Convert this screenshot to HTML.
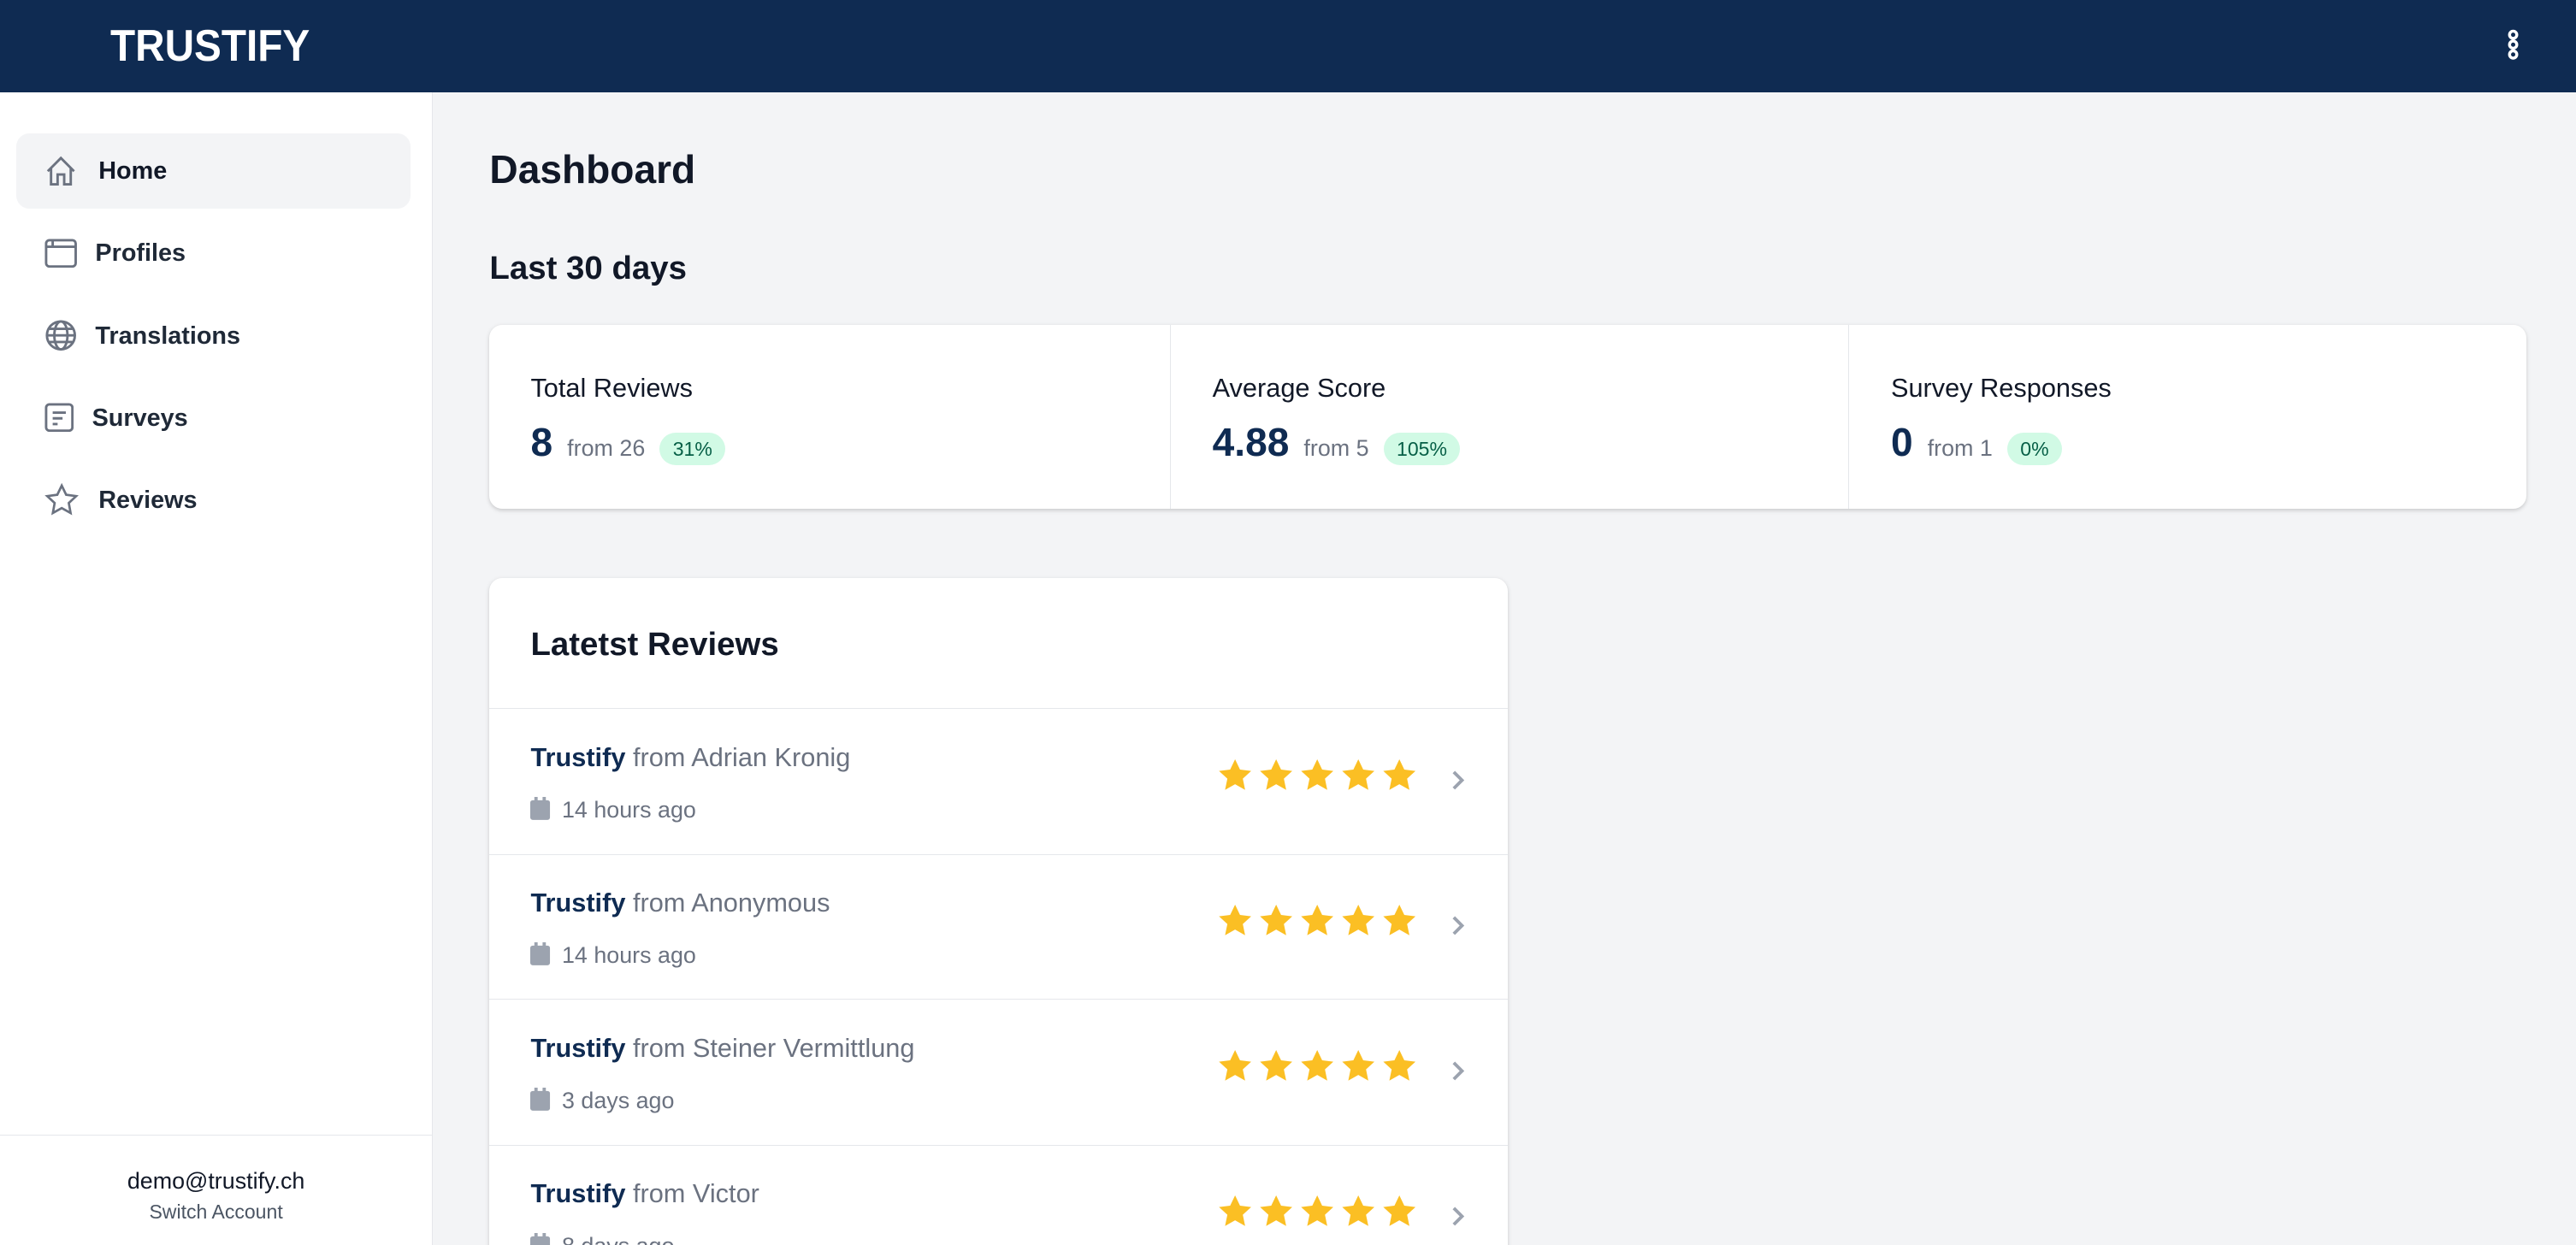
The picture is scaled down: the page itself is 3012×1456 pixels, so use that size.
<!DOCTYPE html>
<html><head><meta charset="utf-8"><style>
html,body{margin:0;padding:0;}
body{width:3012px;height:1455px;overflow:hidden;background:#f3f4f6;font-family:"Liberation Sans",sans-serif;}
#r{zoom:1.92092;position:relative;width:1568px;height:758px;overflow:hidden;background:#f3f4f6;}
.a{position:absolute;white-space:nowrap;}
.hdr{left:0;top:0;width:1568px;height:56px;background:#0f2b52;}
.side{left:0;top:56px;width:263px;height:702px;background:#fff;border-right:1px solid #e5e7eb;}
.nav{font-size:15px;color:#1f2937;font-weight:bold;}
.card{background:#fff;border-radius:8px;box-shadow:0 1px 3px rgba(0,0,0,.12),0 1px 2px rgba(0,0,0,.06);}
.lbl{font-size:16px;color:#111827;}
.val{font-size:24px;font-weight:bold;color:#0f2b52;}
.from{font-size:14px;color:#6b7280;}
.badge{font-size:12px;color:#065f46;background:#d1fae5;border-radius:10px;padding:3px 8px;}
.row{left:0;width:620px;height:88px;border-top:1px solid #e5e7eb;}
.t{font-size:16px;color:#6b7280;}
.t b{color:#0f2b52;}
.d{font-size:14px;color:#6b7280;}
</style></head><body><div id="r">
<div class="a hdr"></div>
<div class="a" style="left:67px;top:12px;font-size:27px;font-weight:bold;color:#fff;transform:scaleX(0.92);transform-origin:left">TRUSTIFY</div>
<svg class="a" style="left:1524px;top:17px" width="12" height="20"><g fill="none" stroke="#fff" stroke-width="1.8"><circle cx="6" cy="4" r="2.2"/><circle cx="6" cy="10" r="2.2"/><circle cx="6" cy="16" r="2.2"/></g></svg>

<div class="a side"></div>
<div class="a" style="left:10px;top:81px;width:240px;height:46px;background:#f3f4f6;border-radius:8px"></div>
<svg class="a" style="left:27px;top:94px" width="20" height="20" fill="none" stroke="#6b7280" stroke-width="1.5"><path d="M2 10L10 2l8 8M4 8v10h4v-6h4v6h4V8"/></svg>
<div class="a nav" style="left:60px;top:96px;color:#111827">Home</div>
<svg class="a" style="left:27px;top:145px" width="20" height="18" fill="none" stroke="#6b7280" stroke-width="1.5"><rect x="1" y="1" width="18" height="16" rx="2"/><path d="M1 5h18M5 1v4"/></svg>
<div class="a nav" style="left:58px;top:146px">Profiles</div>
<svg class="a" style="left:27px;top:194px" width="20" height="20" fill="none" stroke="#6b7280" stroke-width="1.5"><circle cx="10" cy="10" r="8.5"/><ellipse cx="10" cy="10" rx="4" ry="8.5"/><path d="M1.5 10h17M3 6h14M3 14h14"/></svg>
<div class="a nav" style="left:58px;top:196px">Translations</div>
<svg class="a" style="left:27px;top:245px" width="18" height="18" fill="none" stroke="#6b7280" stroke-width="1.5"><rect x="1" y="1" width="16" height="16" rx="2"/><path d="M5 6h8M5 9.5h6M5 13h3"/></svg>
<div class="a nav" style="left:56px;top:246px">Surveys</div>
<svg class="a" style="left:27px;top:294px" width="21" height="20" fill="none" stroke="#6b7280" stroke-width="1.4"><path d="M10.5 1.5l2.7 5.6 6.1.8-4.5 4.2 1.1 6.1-5.4-3-5.4 3 1.1-6.1-4.5-4.2 6.1-.8z"/></svg>
<div class="a nav" style="left:60px;top:296px">Reviews</div>
<div class="a" style="left:0;top:691px;width:263px;border-top:1px solid #e5e7eb"></div>
<div class="a" style="left:0;top:711px;width:263px;text-align:center;font-size:14px;color:#111827">demo@trustify.ch</div>
<div class="a" style="left:0;top:731px;width:263px;text-align:center;font-size:12px;color:#4b5563">Switch Account</div>

<div class="a" style="left:298px;top:89px;font-size:24px;font-weight:bold;color:#111827">Dashboard</div>
<div class="a" style="left:298px;top:152px;font-size:20px;font-weight:bold;color:#111827">Last 30 days</div>

<div class="a card" style="left:298px;top:198px;width:1240px;height:112px"></div>
<div class="a" style="left:712px;top:198px;height:112px;border-left:1px solid #e5e7eb"></div>
<div class="a" style="left:1125px;top:198px;height:112px;border-left:1px solid #e5e7eb"></div>
<div class="a lbl" style="left:323px;top:227px">Total Reviews</div>
<div class="a" style="left:323px;top:255px"><span class="val">8</span> &nbsp;<span class="from">from 26</span> &nbsp;<span class="badge">31%</span></div>
<div class="a lbl" style="left:738px;top:227px">Average Score</div>
<div class="a" style="left:738px;top:255px"><span class="val">4.88</span> &nbsp;<span class="from">from 5</span> &nbsp;<span class="badge">105%</span></div>
<div class="a lbl" style="left:1151px;top:227px">Survey Responses</div>
<div class="a" style="left:1151px;top:255px"><span class="val">0</span> &nbsp;<span class="from">from 1</span> &nbsp;<span class="badge">0%</span></div>

<div class="a card" style="left:298px;top:352px;width:620px;height:420px;overflow:hidden">
<div class="a" style="left:25px;top:29px;font-size:20px;font-weight:bold;color:#111827">Latetst Reviews</div>
<div class="a row" style="top:79px"></div>
<div class="a row" style="top:168px"></div>
<div class="a row" style="top:256px"></div>
<div class="a row" style="top:345px"></div>
</div>
<div id="rows"></div>
<script>
var data=[["Adrian Kronig","14 hours ago"],["Anonymous","14 hours ago"],["Steiner Vermittlung","3 days ago"],["Victor","8 days ago"]];
var h="";
var star='<path d="M11 0.5l3 6.3 6.8.8-5.1 4.7 1.4 6.8L11 15.7 4.9 19.1l1.4-6.8L1.2 7.6 8 6.8z" fill="#fbbf24"/>';
data.forEach(function(d,i){var y=452+i*88.5;
h+='<div class="a t" style="left:323px;top:'+y+'px"><b>Trustify</b> from '+d[0]+'</div>';
h+='<svg class="a" style="left:323px;top:'+(y+33)+'px" width="12" height="14"><rect x="0" y="2" width="12" height="12" rx="1.5" fill="#9ca3af"/><rect x="2.5" y="0" width="2" height="4" fill="#9ca3af"/><rect x="7.5" y="0" width="2" height="4" fill="#9ca3af"/></svg>';
h+='<div class="a d" style="left:342px;top:'+(y+33)+'px">'+d[1]+'</div>';
var s='';for(var k=0;k<5;k++)s+='<g transform="translate('+(k*25)+',0)">'+star+'</g>';
h+='<svg class="a" style="left:741px;top:'+(y+10)+'px" width="126" height="21">'+s+'</svg>';
h+='<svg class="a" style="left:883px;top:'+(y+16)+'px" width="10" height="14"><path d="M2 2l5 5-5 5" fill="none" stroke="#9ca3af" stroke-width="2"/></svg>';
});
document.getElementById("rows").innerHTML=h;
</script>
</div></body></html>
